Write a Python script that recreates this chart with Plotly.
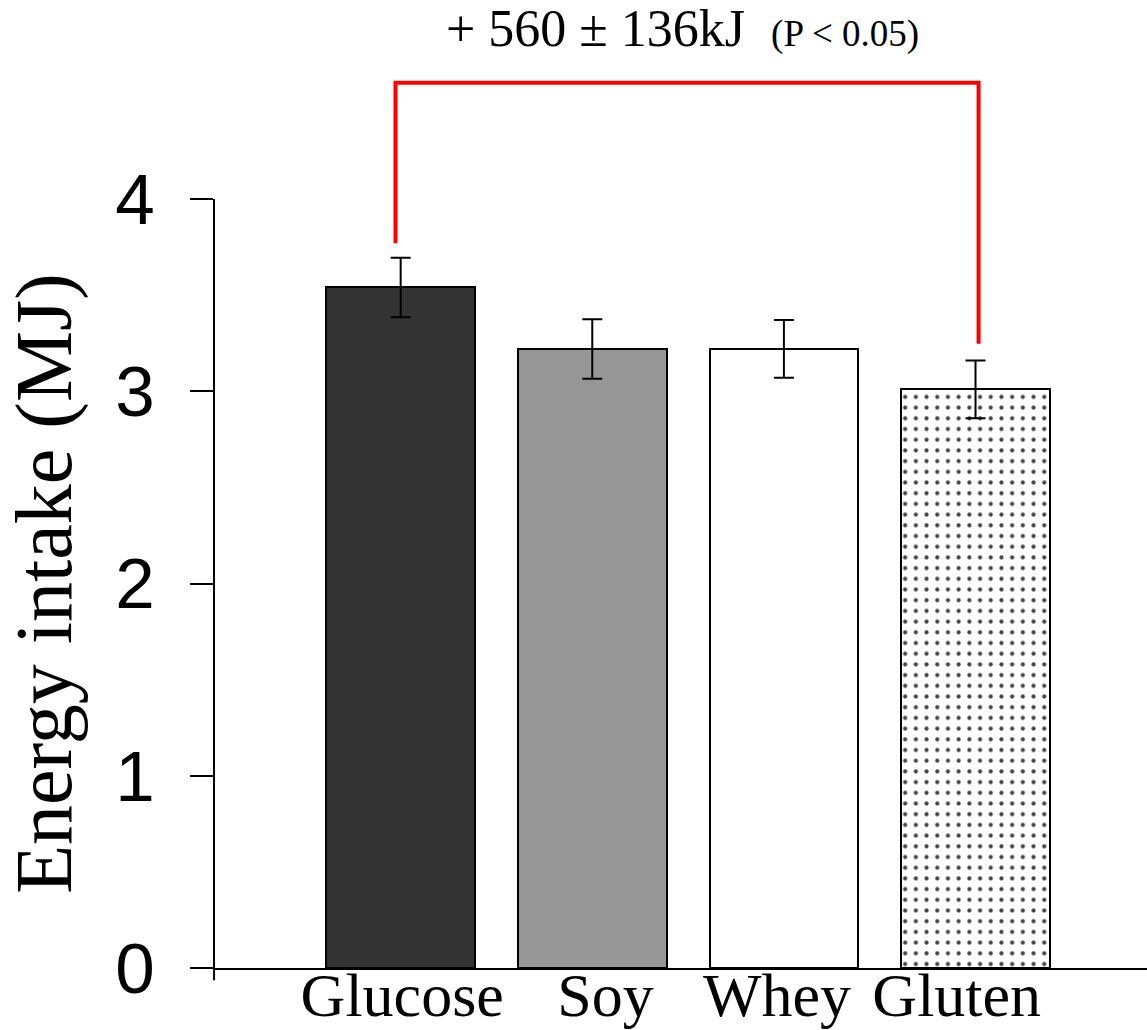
import plotly.graph_objects as go

# Mean energy intake per preload (MJ) with SEM
categories = ["Glucose", "Soy", "Whey", "Gluten"]
intake_mj = [3.54, 3.22, 3.22, 3.01]
sem_mj = [0.155, 0.155, 0.15, 0.15]
fill_colors = ["#333333", "#969696", "#ffffff", "#ffffff"]
fill_patterns = ["", "", "", "."]
y_ticks = [0, 1, 2, 3, 4]

# Comparison bracket (Glucose vs Gluten), heights in MJ
bracket_left_bottom = 3.77
bracket_top = 4.605
bracket_right_bottom = 3.247
bracket_label = "+ 560 \u00b1 136kJ  <span style=\"font-size:37px\">(P &lt; 0.05)</span>"

Y_MAX = 4.0
X_RANGE = [-0.969, 3.895]
xpos = list(range(len(categories)))
# small horizontal nudges of the category labels (category units)
label_nudge = [0.008, 0.069, -0.036, -0.098]

SERIF = "Liberation Serif, Times New Roman, serif"
SANS = "Liberation Sans, Arial, sans-serif"

fig = go.Figure()
fig.add_trace(go.Bar(
    x=xpos,
    y=intake_mj,
    width=0.775,
    marker=dict(
        color=fill_colors,
        line=dict(color="black", width=2),
        pattern=dict(shape=fill_patterns, fgcolor="black", fgopacity=1,
                     size=10.7, solidity=0.12, fillmode="overlay"),
    ),
    error_y=dict(type="data", array=sem_mj, visible=True,
                 color="black", thickness=2, width=10),
    showlegend=False,
))


def to_paper(v):
    return v / Y_MAX


x_left = xpos[0] - 0.027
x_right = xpos[3] + 0.016
fig.add_shape(
    type="path",
    xref="x", yref="paper",
    path=(f"M {x_left},{to_paper(bracket_left_bottom)} "
          f"L {x_left},{to_paper(bracket_top)} "
          f"L {x_right},{to_paper(bracket_top)} "
          f"L {x_right},{to_paper(bracket_right_bottom)}"),
    line=dict(color="#ff0000", width=4),
)

fig.add_annotation(
    x=(x_left + x_right) / 2 - 0.025, xref="x",
    y=to_paper(bracket_top) + 0.071, yref="paper",
    text=bracket_label,
    showarrow=False,
    font=dict(family=SERIF, size=52, color="black"),
    xanchor="center", yanchor="middle",
)

# short downward extension of the y axis below the baseline
fig.add_shape(type="line", xref="paper", yref="paper",
              x0=-0.001, x1=-0.001, y0=0, y1=-0.016,
              line=dict(color="black", width=2))

fig.update_layout(
    width=1147, height=1030,
    margin=dict(l=215, r=0, t=199, b=62),
    paper_bgcolor="white", plot_bgcolor="white",
    bargap=0,
    xaxis=dict(
        range=X_RANGE, automargin=False,
        tickvals=[p + n for p, n in zip(xpos, label_nudge)],
        ticktext=categories,
        showline=True, linecolor="black", linewidth=2,
        ticks="", showgrid=False, zeroline=False,
        ticklabelstandoff=-28,
        tickfont=dict(family=SERIF, size=62, color="black"),
    ),
    yaxis=dict(
        range=[0, Y_MAX], automargin=False,
        tickvals=y_ticks,
        showline=True, linecolor="black", linewidth=2,
        ticks="outside", ticklen=23, tickwidth=2, tickcolor="black",
        ticklabelstandoff=21,
        showgrid=False, zeroline=False,
        tickfont=dict(family=SANS, size=71, color="black"),
        title=dict(text="Energy intake (MJ)",
                   font=dict(family=SERIF, size=80, color="black"),
                   standoff=24),
    ),
)

fig.write_html("out.html")
